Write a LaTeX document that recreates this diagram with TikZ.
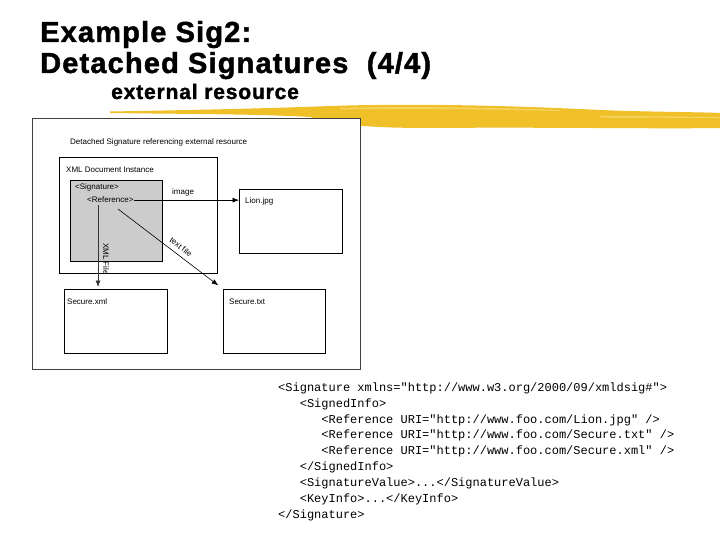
\documentclass[tikz,border=0pt]{standalone}
\usepackage{fontspec}
\setmainfont{Liberation Sans}
\setmonofont{Liberation Mono}
\newfontfamily\titlefont{Liberation Sans}[LetterSpace=4, BoldFeatures={FakeBold=1.5}]
\usetikzlibrary{arrows.meta}
\definecolor{brush}{RGB}{240,192,40}
\definecolor{brushlight}{RGB}{246,212,100}
\definecolor{siggray}{RGB}{204,204,204}
\tikzset{
  box/.style={draw=black, line width=0.6pt, inner sep=0pt, anchor=north west},
  lbl/.style={inner sep=0pt, anchor=base west, font=\fontsize{8}{9.6}\selectfont},
  arr/.style={-{Latex[length=6.5pt,width=5pt]}, line width=0.6pt},
  codeline/.style={inner sep=0pt, anchor=base west, font=\ttfamily\fontsize{12}{14}\selectfont},
  ttl/.style={inner sep=0pt, anchor=base west, font=\titlefont\bfseries\fontsize{29}{34}\selectfont},
  subttl/.style={inner sep=0pt, anchor=base west, font=\titlefont\bfseries\fontsize{21}{25}\selectfont},
}
\begin{document}
\begin{tikzpicture}[x=1pt,y=-1pt]
\useasboundingbox (0,0) rectangle (720,540);
\fill[white] (0,0) rectangle (720,540);

% brush stroke
\fill[brush] (110,111.5) .. controls (200,110) and (280,108) .. (330,106)
  .. controls (420,103) and (520,106) .. (600,110)
  .. controls (650,112) and (700,112) .. (720,113)
  -- (720,128) .. controls (650,129) and (550,127) .. (430,128)
  .. controls (380,128) and (340,126) .. (310,117)
  .. controls (260,114) and (180,114) .. (110,113) -- cycle;
\fill[brushlight] (340,108) .. controls (420,106) and (500,108) .. (560,110)
  -- (560,111) .. controls (500,109.5) and (420,108) .. (340,109.5) -- cycle;
\fill[brushlight] (600,116) .. controls (650,116) and (690,117) .. (720,117)
  -- (720,118) .. controls (690,118) and (650,117.5) .. (600,117.5) -- cycle;

% titles
\node[ttl] (t1) at (40,42) {Example Sig2:};
\node[ttl] (t2) at (40,73) {Detached Signatures\ \ (4/4)};
\node[subttl] (t3) at (111,99) {external resource};

% diagram
\node[box, draw=black!75, fill=white, minimum width=328pt, minimum height=251pt] (frame) at (32,118) {};
\node[lbl] (ftitle) at (70,145) {Detached Signature referencing external resource};
\node[box, minimum width=158pt, minimum height=116pt] (xmldoc) at (59,157) {};
\node[lbl] (xmllbl) at (66,173) {XML Document Instance};
\node[box, fill=siggray, minimum width=92pt, minimum height=81pt] (sig) at (70,180) {};
\node[lbl] (siglbl) at (75,190) {<Signature>};
\node[lbl] (ref) at (87,203) {<Reference>};
\node[box, minimum width=103pt, minimum height=64pt] (lion) at (239,189) {};
\node[lbl] (lionlbl) at (245,204) {Lion.jpg};
\node[box, minimum width=103pt, minimum height=64pt] (sxml) at (64,289) {};
\node[lbl] (sxmllbl) at (67,304) {Secure.xml};
\node[box, minimum width=102pt, minimum height=64pt] (stxt) at (223,289) {};
\node[lbl] (stxtlbl) at (229,304) {Secure.txt};

\coordinate (xs) at (98,205);
\coordinate (ts) at (118,209);
\draw[arr] (ref.east) -- (ref.east -| lion.west);
\node[lbl] (imglbl) at (172,195) {image};
\draw[arr, draw=black!80, shorten >=2pt] (xs) -- (xs |- sxml.north);
\node[inner sep=0pt, rotate=-90, font=\fontsize{8}{9.6}\selectfont] (xmlfile) at (106,259) {XML File};
\draw[arr, shorten >=6pt] (ts) -- (stxt.north west);
\node[inner sep=0pt, rotate=-37, font=\fontsize{8}{9.6}\selectfont] (txtlbl) at (181,247) {text file};

% code
\node[codeline] (c1) at (278,391) {<Signature xmlns="http://www.w3.org/2000/09/xmldsig\#">};
\node[codeline] (c2) at (299.6,407) {<SignedInfo>};
\node[codeline] (c3) at (321.2,423) {<Reference URI="http://www.foo.com/Lion.jpg" />};
\node[codeline] (c4) at (321.2,438.5) {<Reference URI="http://www.foo.com/Secure.txt" />};
\node[codeline] (c5) at (321.2,454.5) {<Reference URI="http://www.foo.com/Secure.xml" />};
\node[codeline] (c6) at (299.6,470) {</SignedInfo>};
\node[codeline] (c7) at (299.6,486) {<SignatureValue>...</SignatureValue>};
\node[codeline] (c8) at (299.6,502) {<KeyInfo>...</KeyInfo>};
\node[codeline] (c9) at (278,518) {</Signature>};
\end{tikzpicture}
\end{document}
